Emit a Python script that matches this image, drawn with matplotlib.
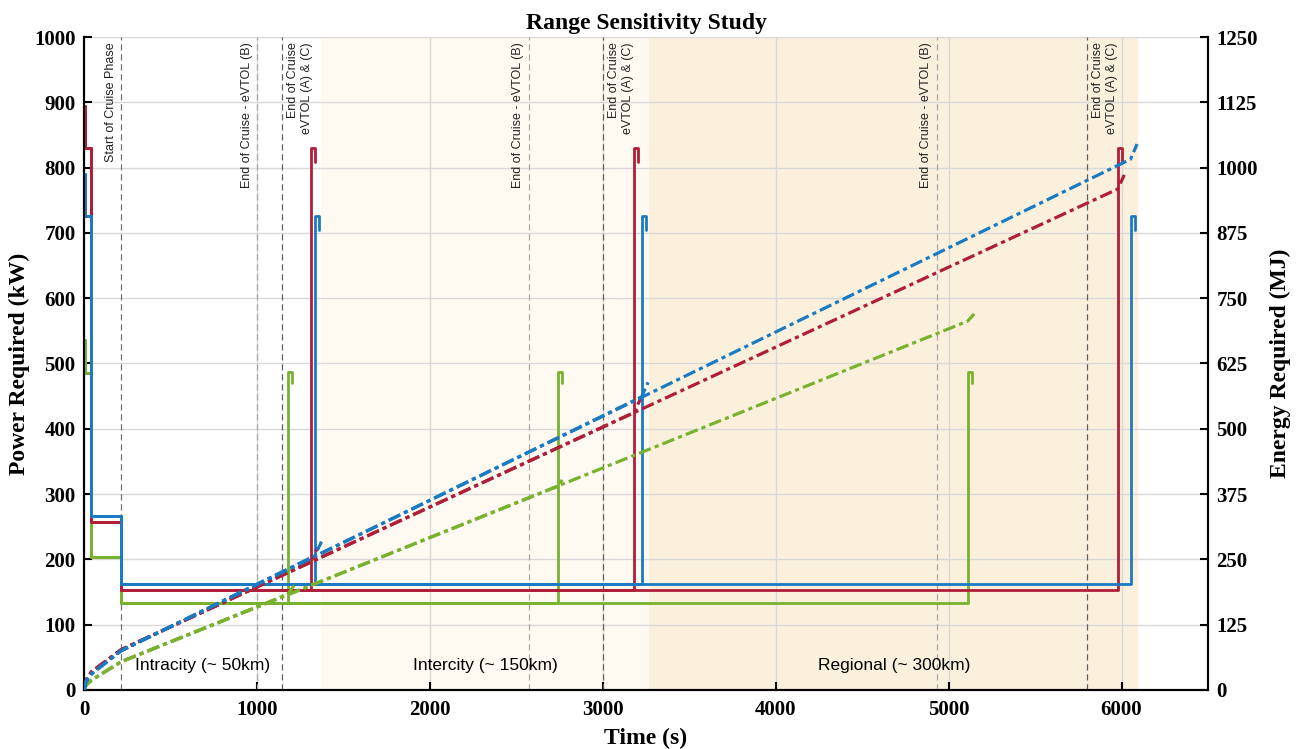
import matplotlib
matplotlib.use("Agg")
import matplotlib.pyplot as plt
from matplotlib.transforms import blended_transform_factory

# ---------------- data ----------------
# Power profiles (kW) - step points (time s, power kW)
red_power_t   = [8, 8, 40, 40, 214, 214]
red_power_p   = [895, 830, 830, 257, 257, 153]
blue_power_t  = [7, 7, 40, 40, 214, 214]
blue_power_p  = [790, 726, 726, 266, 266, 162]
green_power_t = [7, 7, 40, 40, 214, 214]
green_power_p = [536, 486, 486, 204, 204, 133]

# mission end spikes: (spike time, peak power, power after hook)
red_spike_t   = [1312, 3181, 5978]
red_peak      = [830, 830, 830]
red_after     = [808, 808, 808]
blue_spike_t  = [1335, 3224, 6052]
blue_peak     = [726, 726, 726]
blue_after    = [704, 704, 704]
green_spike_t = [1177, 2740, 5110]
green_peak    = [487, 487, 487]
green_after   = [470, 470, 470]
hook_width = 25

# Energy profiles (MJ) - common climb part
red_energy_t   = [0, 8, 20, 44, 214]
red_energy_e   = [0, 14, 24, 35, 77]
blue_energy_t  = [0, 8, 20, 44, 214]
blue_energy_e  = [0, 12, 21, 31, 75]
green_energy_t = [0, 8, 20, 44, 214]
green_energy_e = [0, 7, 12, 19, 54]
# energy at each mission end spike, and final energy at end of descent
red_energy_spike   = [245, 531, 959]
red_energy_end     = [272, 558, 986]
blue_energy_spike  = [257, 561, 1016]
blue_energy_end    = [284, 589, 1045]
green_energy_spike = [183, 390, 706]
green_energy_end   = [200, 408, 720]
descent_time = 38

# Markers / regions
start_cruise = 214
end_cruise_B  = [1000, 2572, 4931]
end_cruise_AC = [1143, 3000, 5798]
region_edges  = [0, 1370, 3270, 6098]
region_labels = ["Intracity (~ 50km)", "Intercity (~ 150km)", "Regional (~ 300km)"]
region_colors = ["#FFFFFF", "#FFFAF1", "#FAF0DC"]

RED, BLUE, GREEN = "#B01E38", "#1B7BC2", "#78B22E"

# ---------------- figure ----------------
fig = plt.figure(figsize=(13.01, 7.49), dpi=100)
ax = fig.add_axes([0.0646, 0.0788, 0.8639, 0.8718])
ax2 = ax.twinx()

ax.set_xlim(0, 6500)
ax.set_ylim(0, 1000)
ax2.set_ylim(0, 1250)

# regions
for i in range(3):
    if i > 0:
        ax.axvspan(region_edges[i], region_edges[i + 1], color=region_colors[i], zorder=0, lw=0)
    ax.text((region_edges[i] + region_edges[i + 1]) / 2, 38, region_labels[i],
            ha="center", va="center", fontsize=12.5, family="Liberation Sans", zorder=5)

ax.set_axisbelow(True)
ax.grid(True, color="#D8D8D8", lw=1.0, zorder=0.5)
ax.set_xticks(range(0, 7000, 1000))
ax.set_yticks(range(0, 1100, 100))
ax2.set_yticks(range(0, 1300, 125))

# vertical markers
trans = blended_transform_factory(ax.transData, ax.transAxes)
ax.axvline(start_cruise, color="#707070", lw=0.9, dashes=(5, 3), zorder=1)
ax.text(start_cruise - 25, 0.992, "Start of Cruise Phase", rotation=90, ha="right", va="top",
        fontsize=9, family="Liberation Sans", transform=trans, color="#222222")
for xb in end_cruise_B:
    ax.axvline(xb, color="#A8A8A8", lw=0.9, dashes=(5, 3), zorder=1)
    ax.text(xb - 25, 0.992, "End of Cruise - eVTOL (B)", rotation=90, ha="right", va="top",
            fontsize=9, family="Liberation Sans", transform=trans, color="#222222")
for xa in end_cruise_AC:
    ax.axvline(xa, color="#606060", lw=0.9, dashes=(5, 3), zorder=1)
    ax.text(xa + 30, 0.992, "End of Cruise\neVTOL (A) & (C)", rotation=90, ha="left", va="top",
            multialignment="right", fontsize=9, family="Liberation Sans", transform=trans,
            color="#222222", linespacing=1.25)

# power lines
def draw_power(t0, p0, ts_list, peaks, afters, color):
    for ts, pk, af in zip(ts_list, peaks, afters):
        t = t0 + [ts, ts, ts + hook_width, ts + hook_width]
        p = p0 + [p0[-1], pk, pk, af]
        ax.plot(t, p, color=color, lw=2.0, solid_joinstyle="round", solid_capstyle="round", zorder=3)

def draw_energy(t0, e0, ts_list, es, ee, color):
    for ts, e1, e2 in zip(ts_list, es, ee):
        t = t0 + [ts, ts + descent_time]
        e = e0 + [e1, e2]
        ax2.plot(t, e, color=color, lw=2.3, dashes=(4, 1.3, 1.3, 1.3), zorder=3)

draw_power(green_power_t, green_power_p, green_spike_t, green_peak, green_after, GREEN)
draw_power(red_power_t, red_power_p, red_spike_t, red_peak, red_after, RED)
draw_power(blue_power_t, blue_power_p, blue_spike_t, blue_peak, blue_after, BLUE)
draw_energy(green_energy_t, green_energy_e, green_spike_t, green_energy_spike, green_energy_end, GREEN)
draw_energy(red_energy_t, red_energy_e, red_spike_t, red_energy_spike, red_energy_end, RED)
draw_energy(blue_energy_t, blue_energy_e, blue_spike_t, blue_energy_spike, blue_energy_end, BLUE)

# styling
serif = {"family": "Liberation Serif", "weight": "bold"}
for a in (ax, ax2):
    a.spines["top"].set_visible(False)
    for s in ("left", "right", "bottom"):
        a.spines[s].set_linewidth(1.5)
        a.spines[s].set_color("black")
    a.tick_params(direction="in", length=6, width=1.5, labelsize=15)
    for lab in a.get_xticklabels() + a.get_yticklabels():
        lab.set_fontfamily("Liberation Serif")
        lab.set_fontweight("bold")
ax.tick_params(axis="y", pad=6)
ax.tick_params(axis="x", pad=7)
ax2.tick_params(axis="y", pad=6)
ax2.patch.set_visible(False)

ax.set_xlabel("Time (s)", fontsize=17, labelpad=6, **serif)
ax.set_ylabel("Power Required (kW)", fontsize=17, labelpad=3, **serif)
ax2.set_ylabel("Energy Required (MJ)", fontsize=17, labelpad=9, **serif)
ax.set_title("Range Sensitivity Study", fontsize=17, pad=6, **serif)

fig.savefig("out.png", dpi=100)
